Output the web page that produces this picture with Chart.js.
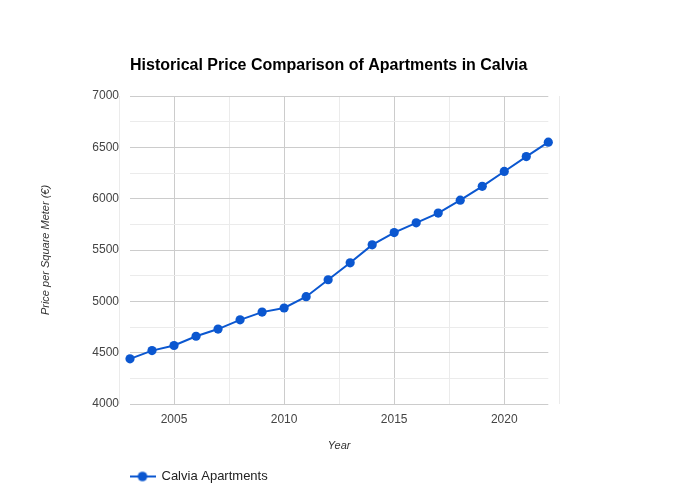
<!DOCTYPE html>
<html><head><meta charset="utf-8">
<script src="https://cdn.jsdelivr.net/npm/chart.js@4.4.1/dist/chart.umd.min.js"></script>
<style>html,body{margin:0;padding:0;background:#fff}</style>
</head><body>
<canvas id="c" width="680" height="500" style="width:680px;height:500px;display:block"></canvas>
<script>
const years = [2003,2004,2005,2006,2007,2008,2009,2010,2011,2012,2013,2014,2015,2016,2017,2018,2019,2020,2021,2022];
const calviaPrices = [4440,4520,4570,4660,4730,4820,4895,4935,5045,5210,5375,5550,5670,5765,5860,5985,6120,6265,6410,6550];
const xMajorTicks = [2005,2010,2015,2020];
const xMinorTicks = [2002.5,2007.5,2012.5,2017.5,2022.5];
const yMin = 4000, yMax = 7000, yMajorStep = 500, yMinorStep = 250;
const xMin = 2003, xMax = 2022;

const LINE_COLOR = '#0b57d0';
const MAJOR_GRID = '#cccccc';
const MINOR_GRID = '#ebebeb';
const FONT = '"Liberation Sans", Arial, sans-serif';

Chart.defaults.font.family = FONT;

// legend symbol: line with a dot
const sym = document.createElement('canvas');
sym.width = 26; sym.height = 12;
(function(){
  const g = sym.getContext('2d');
  g.strokeStyle = LINE_COLOR; g.lineWidth = 2;
  g.beginPath(); g.moveTo(0,6); g.lineTo(26,6); g.stroke();
  g.fillStyle = LINE_COLOR;
  g.beginPath(); g.arc(13,6,4.8,0,Math.PI*2); g.fill();
})();

const xAllTicks = xMinorTicks.concat(xMajorTicks).filter(v => v >= xMin && v <= xMax).sort((a,b)=>a-b);

const outerGrid = {
  id: 'outerGrid',
  beforeDatasetsDraw(chart) {
    const {ctx, chartArea, scales} = chart;
    ctx.save();
    ctx.strokeStyle = MINOR_GRID; ctx.lineWidth = 1;
    xMinorTicks.filter(v => v < xMin || v > xMax).forEach(v => {
      const px = Math.round(scales.x.getPixelForValue(v)) + 0.5;
      ctx.beginPath(); ctx.moveTo(px, chartArea.top); ctx.lineTo(px, chartArea.bottom); ctx.stroke();
    });
    ctx.restore();
  }
};

new Chart(document.getElementById('c'), {
  type: 'line',
  data: {
    datasets: [{
      label: 'Calvia Apartments',
      data: years.map((y,i) => ({x: y, y: calviaPrices[i]})),
      borderColor: LINE_COLOR,
      backgroundColor: LINE_COLOR,
      borderWidth: 2,
      pointRadius: 4.6,
      pointBorderWidth: 0,
      pointBackgroundColor: LINE_COLOR,
      tension: 0,
      clip: false
    }]
  },
  options: {
    responsive: false,
    animation: false,
    devicePixelRatio: 1,
    layout: { padding: { top: 56.4, right: 131.7, bottom: 7, left: 0 } },
    plugins: {
      title: {
        display: true,
        text: 'Historical Price Comparison of Apartments in Calvia',
        align: 'start',
        fullSize: false,
        color: '#000',
        font: { size: 16, weight: 'bold', family: FONT },
        padding: { top: 0, bottom: 20.4 }
      },
      legend: {
        position: 'bottom',
        align: 'start',
        fullSize: false,
        labels: {
          usePointStyle: true,
          pointStyle: sym,
          pointStyleWidth: 25,
          boxHeight: 13,
          padding: 0,
          color: '#222',
          font: { size: 13, family: FONT }
        }
      },
      tooltip: { enabled: false }
    },
    scales: {
      x: {
        type: 'linear',
        min: xMin, max: xMax,
        afterBuildTicks(scale) { scale.ticks = xAllTicks.map(v => ({value: v})); },
        afterFit(scale) { scale.height = 66; },
        border: { display: false },
        grid: {
          drawTicks: false,
          color: c => (c.tick && xMajorTicks.includes(c.tick.value)) ? MAJOR_GRID : MINOR_GRID
        },
        ticks: {
          autoSkip: false, maxRotation: 0, padding: 8,
          color: '#444', font: { size: 12, family: FONT },
          callback: v => xMajorTicks.includes(v) ? String(v) : ''
        },
        title: {
          display: true, text: 'Year', color: '#333',
          font: { size: 11, style: 'italic', family: FONT },
          padding: { top: 0, bottom: 17.4 }
        }
      },
      y: {
        type: 'linear',
        min: yMin, max: yMax,
        afterFit(scale) { scale.width = 130; },
        border: { display: false },
        grid: {
          drawTicks: false,
          color: c => (c.tick && c.tick.value % yMajorStep === 0) ? MAJOR_GRID : MINOR_GRID
        },
        ticks: {
          stepSize: yMinorStep, padding: 11,
          color: '#444', font: { size: 12, family: FONT },
          callback: v => v % yMajorStep === 0 ? String(v) : ''
        },
        title: {
          display: true, text: 'Price per Square Meter (€)', color: '#333',
          font: { size: 11, style: 'italic', family: FONT },
          padding: { top: 39.4, bottom: 0 }
        }
      }
    }
  },
  plugins: [outerGrid]
});
</script>
</body></html>
